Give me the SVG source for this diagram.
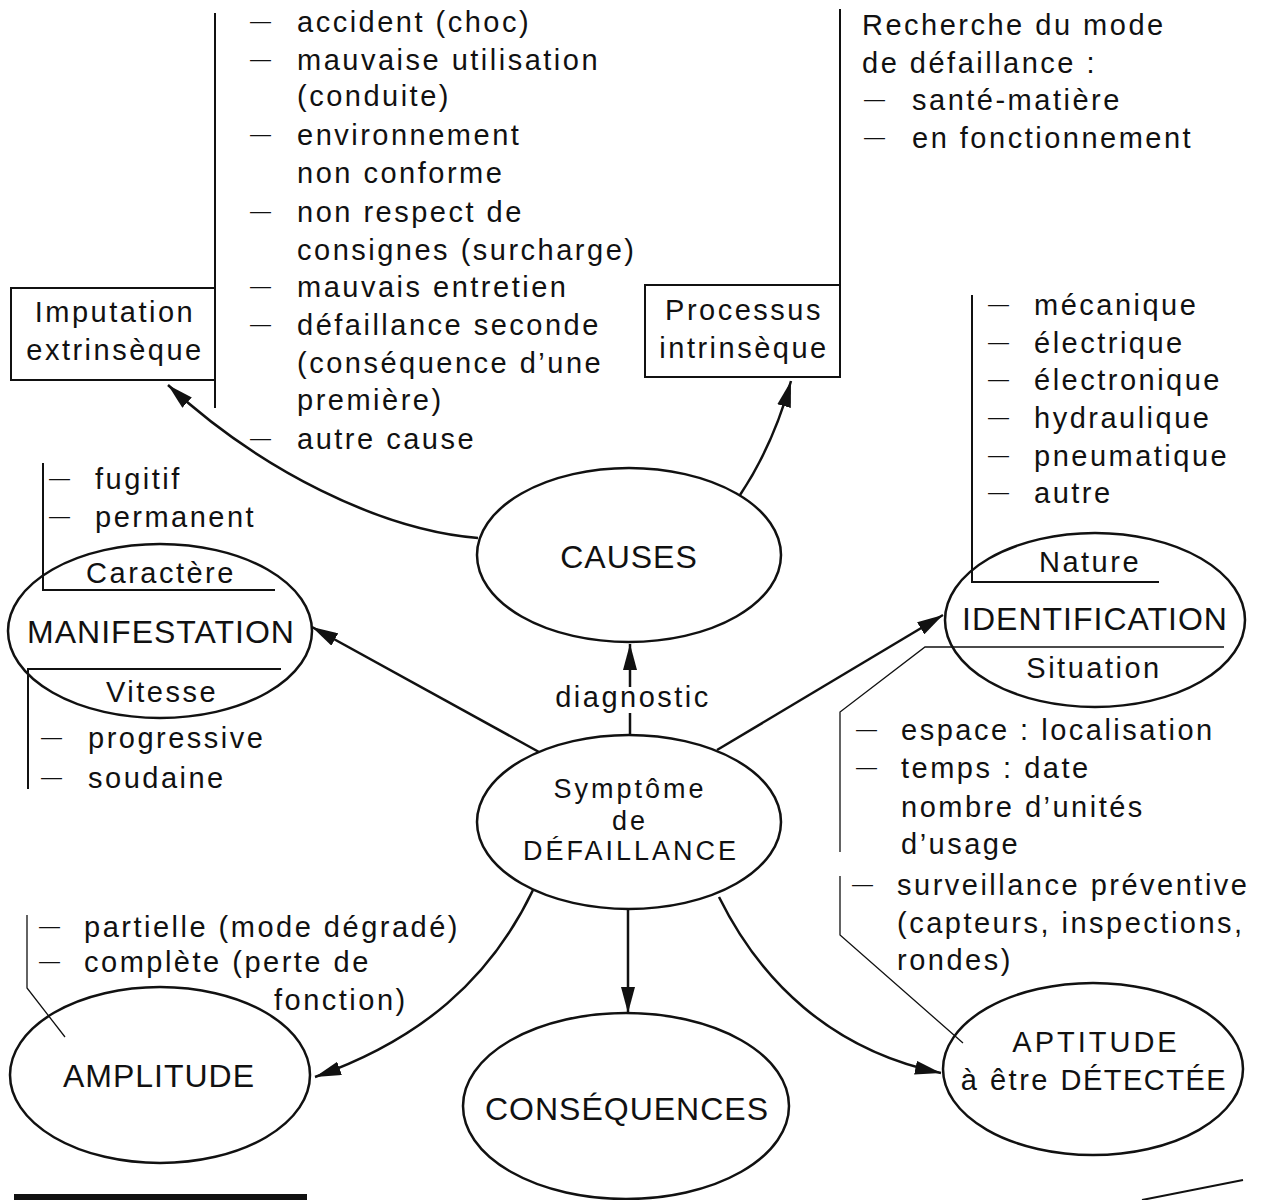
<svg xmlns="http://www.w3.org/2000/svg" width="1261" height="1200" viewBox="0 0 1261 1200">
<style>
.t{font-family:"Liberation Sans",Arial,sans-serif;font-size:29px;letter-spacing:2.5px;fill:#111}
.d{font-size:21px;letter-spacing:0px}
.cap{font-size:32px;letter-spacing:1px}
.sym{font-size:27px;letter-spacing:3px}
.m{text-anchor:middle}
.node{fill:none;stroke:#111;stroke-width:2.5}
.ln{fill:none;stroke:#111;stroke-width:2}
.thin{fill:none;stroke:#111;stroke-width:1.3}
.arr{fill:none;stroke:#111;stroke-width:2.5;marker-end:url(#ah)}
</style>
<defs>
<marker id="ah" markerUnits="userSpaceOnUse" markerWidth="26" markerHeight="14" viewBox="0 0 26 14" refX="26" refY="7" orient="auto">
<path d="M0,0 L26,7 L0,14 z" fill="#111"/>
</marker>
</defs>
<rect width="1261" height="1200" fill="#fff"/>

<g id="imputation">
<rect class="ln" x="11" y="288" width="204" height="92"/>
<line class="ln" x1="215" y1="13" x2="215" y2="408"/>
<text class="t m" x="115" y="322">Imputation</text>
<text class="t m" x="115" y="360">extrinsèque</text>
<text class="t"><tspan class="d" x="250" y="28">—</tspan><tspan x="297" y="32">accident (choc)</tspan></text>
<text class="t"><tspan class="d" x="250" y="66">—</tspan><tspan x="297" y="70">mauvaise utilisation</tspan></text>
<text class="t" x="297" y="106">(conduite)</text>
<text class="t"><tspan class="d" x="250" y="141">—</tspan><tspan x="297" y="145">environnement</tspan></text>
<text class="t" x="297" y="183">non conforme</text>
<text class="t"><tspan class="d" x="250" y="218">—</tspan><tspan x="297" y="222">non respect de</tspan></text>
<text class="t" x="297" y="260">consignes (surcharge)</text>
<text class="t"><tspan class="d" x="250" y="293">—</tspan><tspan x="297" y="297">mauvais entretien</tspan></text>
<text class="t"><tspan class="d" x="250" y="331">—</tspan><tspan x="297" y="335">défaillance seconde</tspan></text>
<text class="t" x="297" y="373">(conséquence d’une</text>
<text class="t" x="297" y="410">première)</text>
<text class="t"><tspan class="d" x="250" y="445">—</tspan><tspan x="297" y="449">autre cause</tspan></text>
</g>

<g id="processus">
<rect class="ln" x="645" y="285" width="195" height="92"/>
<line class="ln" x1="840" y1="9" x2="840" y2="285"/>
<text class="t m" x="744" y="320">Processus</text>
<text class="t m" x="744" y="358">intrinsèque</text>
<text class="t" x="862" y="35">Recherche du mode</text>
<text class="t" x="862" y="73">de défaillance :</text>
<text class="t"><tspan class="d" x="864" y="106">—</tspan><tspan x="912" y="110">santé-matière</tspan></text>
<text class="t"><tspan class="d" x="864" y="144">—</tspan><tspan x="912" y="148">en fonctionnement</tspan></text>
</g>

<g id="causes">
<ellipse class="node" cx="629" cy="555" rx="152" ry="87"/>
<text class="t cap m" x="629" y="568">CAUSES</text>
</g>

<g id="symptome">
<ellipse class="node" cx="629" cy="822" rx="152" ry="87"/>
<text class="t sym m" x="630" y="798">Symptôme</text>
<text class="t sym m" x="630" y="830">de</text>
<text class="t sym m" x="631" y="860">DÉFAILLANCE</text>
</g>

<g id="manifestation">
<ellipse class="node" cx="160" cy="631" rx="152" ry="87"/>
<polyline class="ln" points="43,463 43,590 275,590"/>
<polyline class="ln" points="281,669 28,669 28,789"/>
<text class="t m" x="161" y="583">Caractère</text>
<text class="t cap m" x="161" y="643">MANIFESTATION</text>
<text class="t m" x="162" y="702">Vitesse</text>
<text class="t"><tspan class="d" x="49" y="485">—</tspan><tspan x="95" y="489">fugitif</tspan></text>
<text class="t"><tspan class="d" x="49" y="523">—</tspan><tspan x="95" y="527">permanent</tspan></text>
<text class="t"><tspan class="d" x="41" y="744">—</tspan><tspan x="88" y="748">progressive</tspan></text>
<text class="t"><tspan class="d" x="41" y="784">—</tspan><tspan x="88" y="788">soudaine</tspan></text>
</g>

<g id="identification">
<ellipse class="node" cx="1095" cy="620" rx="150" ry="87"/>
<polyline class="ln" points="972,295 972,582 1159,582"/>
<polyline class="thin" points="1224,647 925,647 840,712 840,852"/>
<text class="t m" x="1090" y="572">Nature</text>
<text class="t cap m" x="1095" y="630">IDENTIFICATION</text>
<text class="t m" x="1094" y="678">Situation</text>
<text class="t"><tspan class="d" x="988" y="311">—</tspan><tspan x="1034" y="315">mécanique</tspan></text>
<text class="t"><tspan class="d" x="988" y="349">—</tspan><tspan x="1034" y="353">électrique</tspan></text>
<text class="t"><tspan class="d" x="988" y="386">—</tspan><tspan x="1034" y="390">électronique</tspan></text>
<text class="t"><tspan class="d" x="988" y="424">—</tspan><tspan x="1034" y="428">hydraulique</tspan></text>
<text class="t"><tspan class="d" x="988" y="462">—</tspan><tspan x="1034" y="466">pneumatique</tspan></text>
<text class="t"><tspan class="d" x="988" y="499">—</tspan><tspan x="1034" y="503">autre</tspan></text>
<text class="t"><tspan class="d" x="856" y="736">—</tspan><tspan x="901" y="740">espace : localisation</tspan></text>
<text class="t"><tspan class="d" x="856" y="774">—</tspan><tspan x="901" y="778">temps : date</tspan></text>
<text class="t" x="901" y="817">nombre d’unités</text>
<text class="t" x="901" y="854">d’usage</text>
</g>

<g id="aptitude">
<ellipse class="node" cx="1093" cy="1069" rx="150" ry="86"/>
<polyline class="thin" points="840,876 840,935 963,1043"/>
<text class="t"><tspan class="d" x="852" y="891">—</tspan><tspan x="897" y="895">surveillance préventive</tspan></text>
<text class="t" x="897" y="933">(capteurs, inspections,</text>
<text class="t" x="897" y="970">rondes)</text>
<text class="t m" x="1096" y="1052" style="font-size:29px;letter-spacing:3px">APTITUDE</text>
<text class="t m" x="1094" y="1090">à être <tspan style="font-size:29px;letter-spacing:1.5px">DÉTECTÉE</tspan></text>
</g>

<g id="amplitude">
<ellipse class="node" cx="160" cy="1075" rx="150" ry="88"/>
<polyline class="thin" points="27,915 27,988 65,1037"/>
<text class="t cap m" x="159" y="1087">AMPLITUDE</text>
<text class="t"><tspan class="d" x="39" y="933">—</tspan><tspan x="84" y="937">partielle (mode dégradé)</tspan></text>
<text class="t"><tspan class="d" x="39" y="968">—</tspan><tspan x="84" y="972">complète (perte de</tspan></text>
<text class="t" x="274" y="1010">fonction)</text>
</g>

<g id="consequences">
<ellipse class="node" cx="626" cy="1106" rx="163" ry="93"/>
<text class="t cap m" x="627" y="1120">CONSÉQUENCES</text>
</g>

<g id="connectors">
<path class="arr" d="M478,538 C380,530 260,470 168,385"/>
<path class="arr" d="M740,495 C762,462 778,428 791,381"/>
<path class="arr" d="M630,687 L630,644"/>
<path class="ln" style="stroke-width:2.5" d="M630,735 L630,713"/>
<text class="t m" x="633" y="707">diagnostic</text>
<path class="arr" d="M539,752 L312,627"/>
<path class="arr" d="M717,750 L943,615"/>
<path class="arr" d="M533,890 C490,980 420,1040 315,1077"/>
<path class="arr" d="M628,909 L628,1013"/>
<path class="arr" d="M719,897 C760,980 830,1050 941,1073"/>
</g>

<rect x="14" y="1194" width="293" height="6" fill="#111"/>
<line class="ln" x1="1142" y1="1200" x2="1243" y2="1180"/>
</svg>
